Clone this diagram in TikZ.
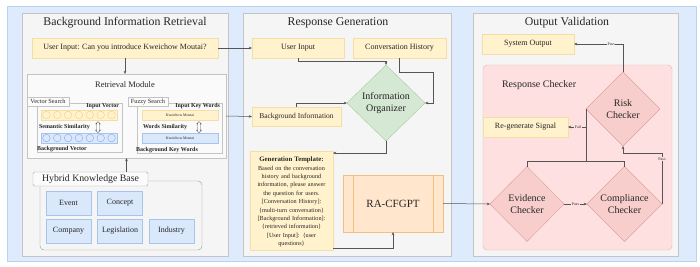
\documentclass[tikz,border=0pt]{standalone}
\usepackage{fontspec}
\setmainfont{Liberation Serif}
\usetikzlibrary{shapes.geometric,shapes.arrows,arrows.meta}

\definecolor{bgblue}{HTML}{DEEBFC}
\definecolor{bgedge}{HTML}{B9D0EE}
\definecolor{panfill}{HTML}{F5F5F5}
\definecolor{panedge}{HTML}{C4C4C4}
\definecolor{yfill}{HTML}{FFF2CC}
\definecolor{yedge}{HTML}{F2DFA6}
\definecolor{bfill}{HTML}{DAE8FC}
\definecolor{bedge}{HTML}{A9C4EB}
\definecolor{gfill}{HTML}{D5E8D4}
\definecolor{gedge}{HTML}{A7CC98}
\definecolor{rfill}{HTML}{FFE0E0}
\definecolor{redge}{HTML}{E8B4B4}
\definecolor{dfill}{HTML}{F8CECC}
\definecolor{dedge}{HTML}{DDA0A0}
\definecolor{ofill}{HTML}{FFE6CC}
\definecolor{oedge}{HTML}{F0C080}
\definecolor{lnk}{HTML}{555555}

\newcommand\fs[2]{\fontsize{#1}{#2}\selectfont}

\begin{document}
\begin{tikzpicture}[x=1pt,y=-1pt,>={Stealth[length=3.2pt,width=2.6pt]},
  box/.style={inner sep=0pt,outer sep=0pt,line width=0.4pt,text=black!85},
  panel/.style={box,draw=panedge,fill=panfill,line width=0.5pt},
  ttl/.style={box,font=\fs{11.8}{13}},
  ybox/.style={box,draw=yedge,fill=yfill,font=\fs{8}{9.5}},
  bbox/.style={box,draw=bedge,fill=bfill,font=\fs{8}{9.5}},
  lbl/.style={box,draw=panedge,fill=white!60!panfill},
  small/.style={box,font=\fs{6}{7}\bfseries},
  strip/.style={box,minimum width=76,minimum height=10,font=\fs{3.8}{4.5}},
  dbl/.style={double arrow,draw=lnk,fill=white,rotate=90,minimum height=11pt,
    inner sep=1.1pt,double arrow head extend=1.1pt,line width=0.35pt},
  diam/.style={diamond,box,aspect=1,font=\fs{10}{11.5},align=center},
  link/.style={draw=lnk,line width=0.5pt},
  tag/.style={box,font=\fs{4}{5},inner sep=0.6pt}]

\useasboundingbox (0,0) rectangle (700,266);
\node[box,draw=bgedge,fill=bgblue,minimum width=689,minimum height=255] (bg) at (351.5,133.5) {};

% panels
\node[panel,minimum width=206,minimum height=243] (p1) at (125,134.5) {};
\node[panel,minimum width=208,minimum height=243] (p2) at (347,134.5) {};
\node[panel,minimum width=205,minimum height=243] (p3) at (575.5,134.5) {};
\node[ttl] (t1) at (125,23) {Background Information Retrieval};
\node[ttl] (t2) at (338,23) {Response Generation};
\node[ttl] (t3) at (567,23) {Output Validation};

% background information retrieval
\node[ybox,minimum width=186,minimum height=20] (uinput) at (125,48) {User Input: Can you introduce Kweichow Moutai?};
\node[box,draw=panedge,fill=white!50!panfill,minimum width=199,minimum height=84] (retr) at (126.5,116) {};
\node[box,font=\fs{8.5}{10}] (retrt) at (125,85) {Retrieval Module};

\node[box,draw=panedge,fill=white!50!panfill,minimum width=85,minimum height=49] (vbox) at (79.5,127.5) {};
\node[lbl,minimum width=42,minimum height=9,font=\fs{6.3}{7}] (vsl) at (48,101.5) {Vector Search};
\node[small,anchor=east] (vint) at (119,106) {Input Vector};
\node[strip,draw=yedge,fill=yfill] (vin) at (79,115) {};
\node[strip,draw=bedge,fill=bfill] (vbg) at (79,138) {};
\foreach \k in {0,...,6} {
  \draw[yedge!80!orange,line width=0.35pt] ({46.4+\k*10.86},115) circle[radius=3.8];
  \draw[bedge!80!blue,line width=0.35pt] ({46.4+\k*10.86},138) circle[radius=3.8];
}
\node[small,anchor=west] (vsim) at (39,127) {Semantic Similarity};
\node[dbl] (varr) at (98,127) {};
\node[small,anchor=west] (vbgt) at (37,149.5) {Background Vector};

\node[box,draw=panedge,fill=white!50!panfill,minimum width=85,minimum height=50] (fbox) at (179.5,128) {};
\node[lbl,minimum width=40,minimum height=9,font=\fs{6.3}{7}] (fsl) at (148,101.5) {Fuzzy Search};
\node[small,anchor=east] (fint) at (220,106) {Input Key Words};
\node[strip,draw=yedge,fill=yfill] (fin) at (180,115) {Kweichow Moutai};
\node[small,anchor=west] (fsim) at (143,127) {Words Similarity};
\node[dbl] (farr) at (199,127) {};
\node[strip,draw=bedge,fill=bfill] (fbg) at (180,138) {Kweichow Moutai};
\node[small,anchor=west] (fbgt) at (136,150) {Background Key Words};

\node[box,draw=black!40,fill=panfill,rounded corners=4pt,minimum width=162,minimum height=69] (hkb) at (121,215.5) {};
\node[lbl,rounded corners=1.5pt,draw=black!35,minimum width=115,minimum height=14,font=\fs{9.8}{11}] (hkbl) at (90.5,179) {Hybrid Knowledge Base};
\node[bbox,minimum width=45,minimum height=24] (event) at (68.5,203) {Event};
\node[bbox,minimum width=45,minimum height=24] (concept) at (120,203) {Concept};
\node[bbox,minimum width=45,minimum height=24] (company) at (68.5,231) {Company};
\node[bbox,minimum width=45,minimum height=24] (legis) at (120,231) {Legislation};
\node[bbox,minimum width=45,minimum height=24] (industry) at (171.5,231) {Industry};

% response generation
\node[ybox,minimum width=92,minimum height=20] (ui2) at (298,48) {User Input};
\node[ybox,minimum width=93,minimum height=20] (ch) at (399.5,48) {Conversation History};
\node[ybox,minimum width=89,minimum height=19,font=\fs{7.5}{9}] (bginfo) at (296.5,116.5) {Background Information};
\node[diam,draw=gedge,fill=gfill,minimum width=78,minimum height=76] (io) at (386,103) {Information\\Organizer};
\node[box,draw=yedge,fill=yfill,minimum width=83,minimum height=99] (tmpl) at (291.5,200.5) {};
\node[box,text width=81,align=center,font=\fs{6.2}{8.4}] (tmplt) at (291.5,202) {\centering
  {\fs{6.8}{8.4}\bfseries Generation Template:}\\
  Based on the conversation\\history and background\\information, please answer\\the question for users.\\
  {[}Conversation History{]}:\\\{multi-turn conversation\}\\{[}Background Information{]}:\\\{retrieved information\}\\
  {[}User Input{]}: \{user\\questions\}\par};
\node[box,draw=oedge,fill=ofill,minimum width=100,minimum height=57,font=\fs{11}{13}] (ra) at (393,203.5) {RA-CFGPT};
\draw[oedge,line width=0.4pt] ([xshift=10pt]ra.north west) -- ([xshift=10pt]ra.south west)
  ([xshift=-10pt]ra.north east) -- ([xshift=-10pt]ra.south east);

% output validation
\node[ybox,minimum width=92,minimum height=20] (sysout) at (528,44) {System Output};
\node[box,draw=redge,fill=rfill,rounded corners=4pt,minimum width=189,minimum height=185] (rc) at (577.5,157.5) {};
\node[box,anchor=west,font=\fs{10}{12}] (rct) at (502,85) {Response Checker};
\node[ybox,minimum width=85,minimum height=20] (regen) at (525.5,127) {Re-generate Signal};
\node[diam,draw=dedge,fill=dfill,minimum width=74,minimum height=74] (risk) at (623,109) {Risk\\Checker};
\node[diam,draw=dedge,fill=dfill,minimum width=74,minimum height=75] (ev) at (527,204) {Evidence\\Checker};
\node[diam,draw=dedge,fill=dfill,minimum width=75,minimum height=75] (comp) at (624.5,204) {Compliance\\Checker};
\coordinate (jn) at ([yshift=5pt]risk.west |- ev.north);

% connectors
\draw[link,->] (uinput.south) -- (uinput.south |- retr.north);
\draw[link,->] (uinput.east) -- (ui2.west);
\draw[link,->] (retr.east) -- (bginfo.west);
\draw[link,->] (retr.south |- hkbl.north) -- (retr.south);
\draw[link,->] (ui2.south) -- ++(0,3) -| (io.north);
\draw[link,->] (ch.south) -- ++(0,14) -| ([xshift=8pt]io.east) -- (io.east);
\draw[link,->] (bginfo.north) |- (io.west);
\draw[link,->] (io.south) |- ([yshift=-2pt]tmpl.north east);
\draw[link,->] ([yshift=1.5pt]tmpl.south east) -| (ra.south);
\draw[link,->] (ra.east) -- (ev.west);
\draw[link,->] (risk.north) |- node[tag,fill=panfill,pos=0.62] (pass1) {Pass} (sysout.east);
\draw[link] (ev.north) |- (jn) -| (comp.north);
\draw[link] (jn) -- (risk.west);
\draw[link,->] (risk.west |- regen.east) -- node[tag,fill=rfill,pos=0.45] (fail) {Fail} (regen.east);
\draw[link,->] (ev.east) -- node[tag,fill=rfill] (pass2) {Pass} (comp.west);
\draw[link,->] (comp.east) |- node[tag,fill=rfill,pos=0.44] (pass3) {Pass} ([yshift=-7pt]risk.south) -- (risk.south);
\end{tikzpicture}
\end{document}
